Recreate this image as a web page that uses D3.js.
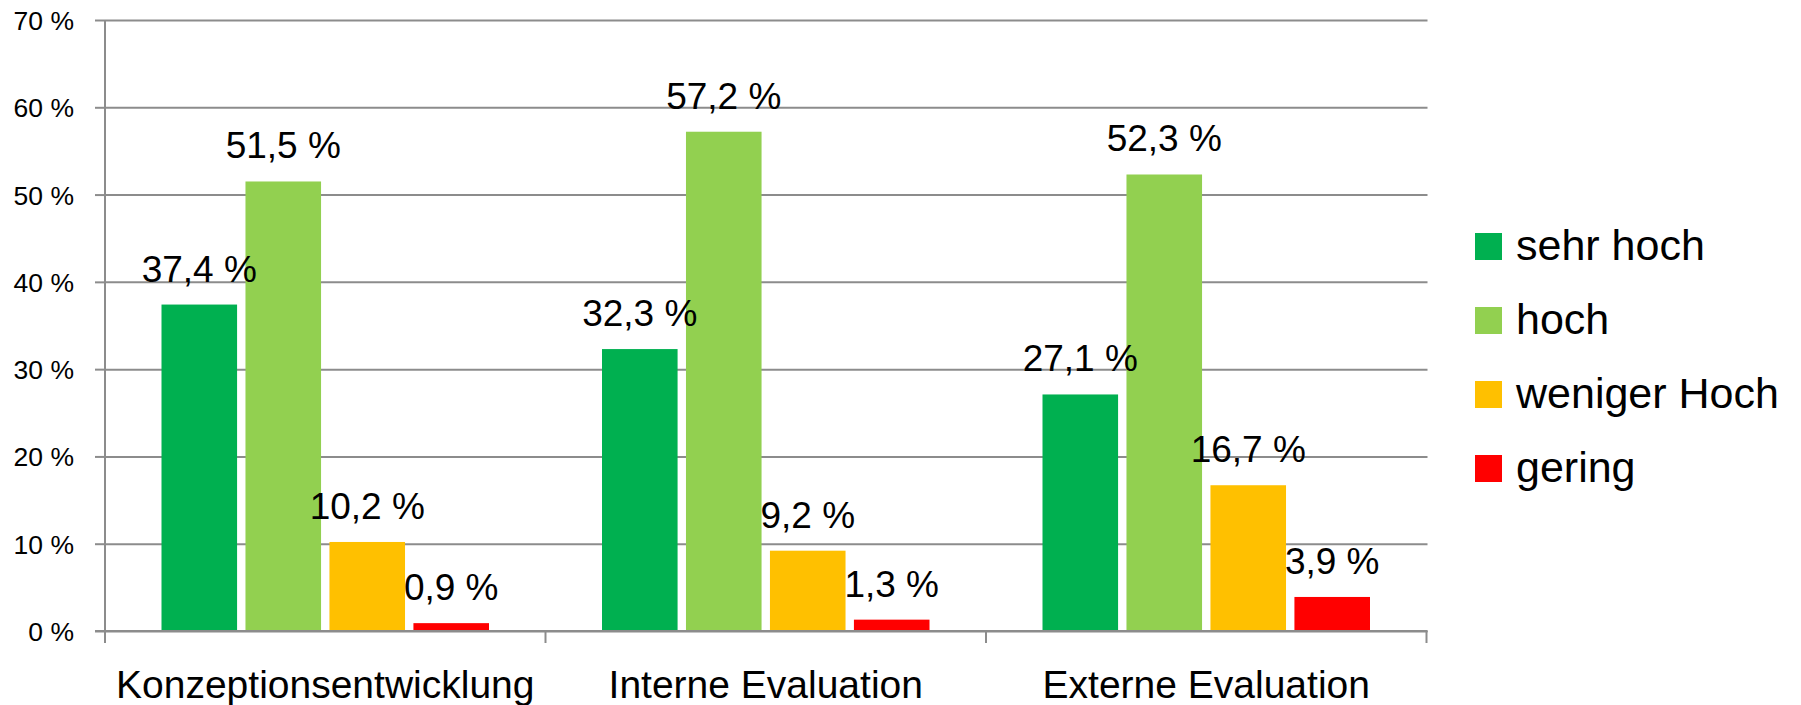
<!DOCTYPE html>
<html>
<head>
<meta charset="utf-8">
<script src="https://cdn.jsdelivr.net/npm/d3@7"></script>
<style>
  html, body { margin: 0; padding: 0; background: #ffffff; }
  svg { display: block; font-family: "Liberation Sans", Arial, sans-serif; }
</style>
</head>
<body>
<svg id="chart" width="1801" height="705"></svg>
<script>
// ---- data ----
const categories = ["Konzeptionsentwicklung", "Interne Evaluation", "Externe Evaluation"];
const seriesNames = ["sehr hoch", "hoch", "weniger Hoch", "gering"];
const seriesColors = ["#00B050", "#92D050", "#FFC000", "#FF0000"];
const sehrHoch = [37.4, 32.3, 27.1];
const hoch = [51.5, 57.2, 52.3];
const wenigerHoch = [10.2, 9.2, 16.7];
const gering = [0.9, 1.3, 3.9];
const yTicks = [0, 10, 20, 30, 40, 50, 60, 70];

const seriesValues = [sehrHoch, hoch, wenigerHoch, gering];

// ---- layout ----
const svg = d3.select("#chart");
const plotL = 105, plotR = 1426.5, plotT = 20, plotB = 631;
const gridColor = "#8c8c8c";

const y = d3.scaleLinear().domain([0, 70]).range([plotB, plotT]);
const x0 = d3.scaleBand().domain(categories).range([plotL, plotR]).paddingInner(0).paddingOuter(0);
const innerMargin = 56.5;
const x1 = d3.scaleBand().domain(seriesNames)
  .range([innerMargin, x0.bandwidth() - innerMargin]).paddingInner(0.1).paddingOuter(0);
const fmt = v => v.toFixed(1).replace(".", ",") + " %";

// gridlines
const grid = svg.append("g").attr("transform", `translate(${plotL},0)`)
  .call(d3.axisLeft(y).tickValues(yTicks).tickSize(-(plotR - plotL + 1)).tickFormat(""));
grid.select(".domain").remove();
grid.selectAll("line").attr("stroke", gridColor).attr("stroke-width", 2);

// y axis with small tick marks and labels
const yAxis = svg.append("g").attr("transform", `translate(${plotL},0)`)
  .call(d3.axisLeft(y).tickValues(yTicks).tickSize(10).tickPadding(21).tickFormat(d => d + " %"));
yAxis.select(".domain").attr("d", `M0,${plotT}V${plotB}`).attr("stroke", gridColor).attr("stroke-width", 2);
yAxis.selectAll(".tick line").attr("stroke", gridColor).attr("stroke-width", 2);
yAxis.selectAll(".tick text")
  .attr("font-size", 26.5).attr("dy", "0.36em").attr("fill", "#000")
  .attr("font-family", "Liberation Sans, Arial, sans-serif");

// bars
const groups = svg.append("g").selectAll("g.cat")
  .data(categories).join("g")
  .attr("class", "cat")
  .attr("transform", d => `translate(${x0(d)},0)`);

groups.each(function(cat, ci) {
  const g = d3.select(this);
  const rows = seriesNames.map((s, si) => ({ s, si, v: seriesValues[si][ci] }));
  g.selectAll("rect").data(rows).join("rect")
    .attr("x", d => x1(d.s))
    .attr("width", x1.bandwidth())
    .attr("y", d => y(d.v))
    .attr("height", d => y(0) - y(d.v))
    .attr("fill", d => seriesColors[d.si]);
  g.selectAll("text.val").data(rows).join("text")
    .attr("class", "val")
    .attr("x", d => x1(d.s) + x1.bandwidth() / 2)
    .attr("y", d => y(d.v) - 23)
    .attr("text-anchor", "middle")
    .attr("font-size", 37)
    .attr("fill", "#000")
    .text(d => fmt(d.v));
});

// x axis line and boundary ticks
svg.append("line")
  .attr("x1", plotL - 10).attr("x2", plotR + 1)
  .attr("y1", y(0)).attr("y2", y(0))
  .attr("stroke", gridColor).attr("stroke-width", 2);
const bounds = categories.map(c => x0(c)).concat([x0(categories[categories.length - 1]) + x0.bandwidth()]);
svg.append("g").selectAll("line").data(bounds).join("line")
  .attr("x1", d => d).attr("x2", d => d)
  .attr("y1", y(0)).attr("y2", y(0) + 12)
  .attr("stroke", gridColor).attr("stroke-width", 2);

// category labels
svg.append("g").selectAll("text").data(categories).join("text")
  .attr("x", d => x0(d) + x0.bandwidth() / 2)
  .attr("y", 698)
  .attr("text-anchor", "middle")
  .attr("font-size", 39)
  .attr("fill", "#000")
  .text(d => d);

// legend
const legend = svg.append("g").attr("transform", "translate(1475,233)");
const li = legend.selectAll("g").data(seriesNames).join("g")
  .attr("transform", (d, i) => `translate(0,${i * 74})`);
li.append("rect").attr("width", 27).attr("height", 27).attr("fill", (d, i) => seriesColors[i]);
li.append("text").attr("x", 41).attr("y", 27).attr("font-size", 43).attr("fill", "#000").text(d => d);
</script>
</body>
</html>
